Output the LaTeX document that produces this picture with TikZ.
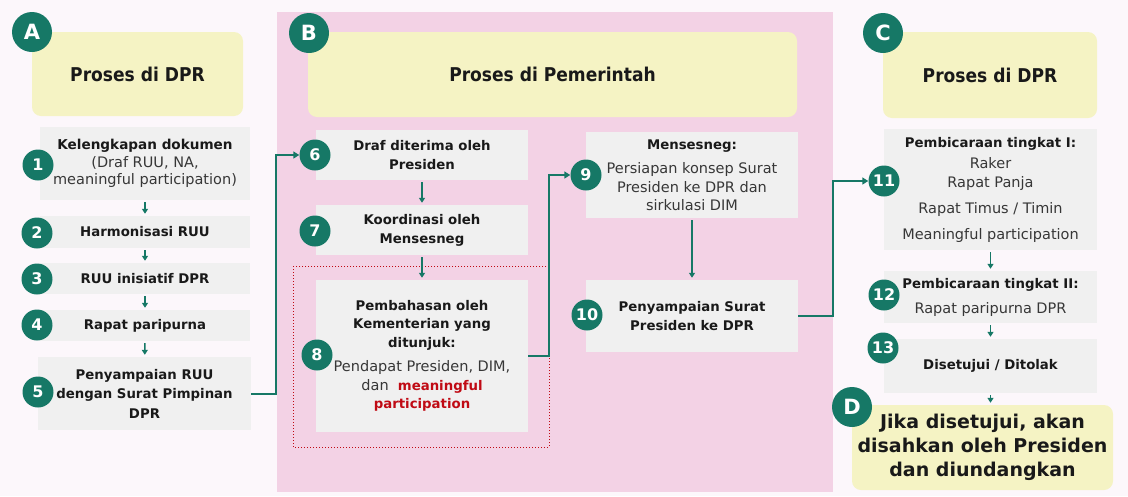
\documentclass[tikz,border=0pt]{standalone}
\usepackage{fontspec}
\setmainfont{DejaVu Sans}
\newfontfamily\condfont{DejaVu Sans Condensed}
\usetikzlibrary{arrows.meta}
\definecolor{bgc}{RGB}{252,247,251}
\definecolor{pinkp}{RGB}{243,210,229}
\definecolor{yel}{RGB}{245,243,196}
\definecolor{boxg}{RGB}{240,240,240}
\definecolor{tealc}{RGB}{22,120,102}
\definecolor{txt}{RGB}{25,25,25}
\definecolor{txtr}{RGB}{55,55,55}
\definecolor{redc}{RGB}{192,10,20}
\newcommand{\rg}[1]{{\mdseries\color{txtr}\fontsize{14.5}{18}\selectfont #1}}
\begin{document}
\begin{tikzpicture}[x=1pt,y=-1pt,
  gbox/.style={fill=boxg, inner sep=0pt, minimum width=212, align=center, text=txt,
    font=\bfseries\fontsize{13.3}{19}\selectfont},
  ybox/.style={fill=yel, rounded corners=9pt, inner sep=0pt, align=center, text=txt,
    font=\condfont\bfseries\fontsize{19}{24}\selectfont},
  numc/.style={circle, fill=tealc, text=white, inner sep=0pt, minimum size=31,
    font=\bfseries\fontsize{16}{16}\selectfont},
  letc/.style={circle, fill=tealc, text=white, inner sep=0pt, minimum size=40,
    font=\bfseries\fontsize{21}{21}\selectfont},
  sarr/.style={draw=tealc, line width=1.6pt, -{Triangle[length=5pt,width=6pt]}, shorten <=2pt, shorten >=2pt},
  conn/.style={draw=tealc, line width=2pt, -{Triangle[length=6pt,width=7pt]}}
]
\fill[bgc] (0,0) rectangle (1128,496);
\useasboundingbox (0,0) rectangle (1128,496);
% panel B
\fill[pinkp] (277,12) rectangle (833,492);

% headers
\node[ybox, minimum width=211, minimum height=84] (hA) at (137.5,74) {Proses di DPR};
\node[ybox, minimum width=489, minimum height=85] (hB) at (552.5,74.5) {Proses di Pemerintah};
\node[ybox, minimum width=214, minimum height=86] (hC) at (990,75) {Proses di DPR};
\node[ybox, font=\bfseries\fontsize{19}{24}\selectfont, minimum width=261, minimum height=85] (hD) at (982.5,447.5)
  {Jika disetujui, akan\\disahkan oleh Presiden\\dan diundangkan};

% column A
\node[gbox, minimum width=210, minimum height=73, font=\bfseries\fontsize{13.6}{17.5}\selectfont] (b1) at (145,163.5)
  {Kelengkapan dokumen\\\rg{(Draf RUU, NA,}\\\rg{meaningful participation)}};
\node[gbox, minimum width=210, minimum height=32] (b2) at (145,232) {Harmonisasi RUU};
\node[gbox, minimum width=210, minimum height=31] (b3) at (145,278.5) {RUU inisiatif DPR};
\node[gbox, minimum width=210, minimum height=31] (b4) at (145,325.5) {Rapat paripurna};
\node[gbox, minimum width=213, minimum height=73, font=\bfseries\fontsize{13.3}{19.5}\selectfont] (b5) at (144.5,393.5)
  {Penyampaian RUU\\dengan Surat Pimpinan\\DPR};

% column B
\node[gbox, minimum height=50] (b6) at (422,155) {Draf diterima oleh\\Presiden};
\node[gbox, minimum height=50] (b7) at (422,230) {Koordinasi oleh\\Mensesneg};
\node[gbox, minimum height=152, font=\bfseries\fontsize{13.3}{18.5}\selectfont] (b8) at (422,356)
  {Pembahasan oleh\\Kementerian yang\\ditunjuk:\\[6pt]\rg{Pendapat Presiden, DIM,}\\\rg{dan\ \ }{\color{redc}meaningful}\\{\color{redc}participation}};
\draw[redc, line width=1pt, dotted] (293,266) rectangle (549,447);
\node[gbox, minimum height=86, font=\bfseries\fontsize{13.3}{18.5}\selectfont] (b9) at (692,175)
  {Mensesneg:\\[6pt]\rg{Persiapan konsep Surat}\\\rg{Presiden ke DPR dan}\\\rg{sirkulasi DIM}};
\node[gbox, minimum height=72] (b10) at (692,316) {Penyampaian Surat\\Presiden ke DPR};

% column C
\node[gbox, minimum width=213, minimum height=121, font=\bfseries\fontsize{13.3}{18}\selectfont] (b11) at (990.5,189.5)
  {Pembicaraan tingkat I:\\[3pt]\rg{Raker}\\[1pt]\rg{Rapat Panja}\\[8pt]\rg{Rapat Timus / Timin}\\[8pt]\rg{Meaningful participation}};
\node[gbox, minimum width=213, minimum height=52, font=\bfseries\fontsize{13.3}{18}\selectfont] (b12) at (990.5,297)
  {Pembicaraan tingkat II:\\[7pt]\rg{Rapat paripurna DPR}};
\node[gbox, minimum width=213, minimum height=54] (b13) at (990.5,366) {Disetujui / Ditolak};

% small arrows
\draw[sarr] (b1) -- (b2);
\draw[sarr] (b2) -- (b3);
\draw[sarr] (b3) -- (b4);
\draw[sarr] (b4) -- (b5);
\draw[sarr] (b6) -- (b7);
\draw[sarr] (b7) -- (b8);
\draw[sarr] (b9) -- (b10);
\draw[sarr] (b11.south) -- (b12.north);
\draw[sarr] (b12) -- (b13);
\draw[sarr] (b13.south) -- (b13.south |- hD.north);

% number circles
\node[numc] (c1) at (38,165) {1};
\node[numc] (c2) at (37,233) {2};
\node[numc] (c3) at (37,279) {3};
\node[numc] (c4) at (37,325) {4};
\node[numc] (c5) at (38,392) {5};
\node[numc] (c6) at (315,155) {6};
\node[numc] (c7) at (315,231) {7};
\node[numc] (c8) at (317,355) {8};
\node[numc] (c9) at (586,175) {9};
\node[numc] (c10) at (587,315) {10};
\node[numc] (c11) at (884,181) {11};
\node[numc] (c12) at (884,295) {12};
\node[numc] (c13) at (883,348) {13};

% letter circles
\node[letc] (lA) at (32,32) {A};
\node[letc] (lB) at (309,33) {B};
\node[letc] (lC) at (883,33) {C};
\node[letc] (lD) at (852,407) {D};

% connectors
\draw[conn] (b5.east) -- ++(25,0) |- (c6.west);
\draw[conn] (b8.east) -- ++(21,0) |- (c9.west);
\draw[conn] (b10.east) -- ++(35,0) |- (c11.west);
\end{tikzpicture}
\end{document}
